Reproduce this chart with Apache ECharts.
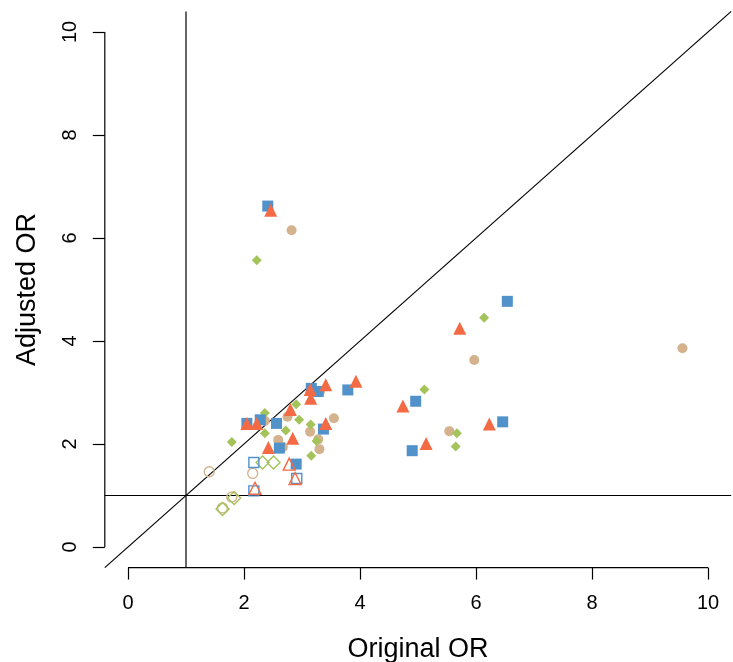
<!DOCTYPE html>
<html>
<head>
<meta charset="utf-8">
<title>Original vs Adjusted OR</title>
<script src="https://cdn.jsdelivr.net/npm/echarts@6/dist/echarts.min.js"></script>
<style>
  html, body { margin: 0; padding: 0; background: #fff; }
  #chart { width: 733px; height: 662px; }
</style>
</head>
<body>
<div id="chart"></div>
<script>
// Axis ticks (odds ratio scale)
const xTicks = [0, 2, 4, 6, 8, 10];
const yTicks = [0, 2, 4, 6, 8, 10];

// Filled markers: [original OR, adjusted OR]
const squaresFilled = [
  [2.41, 6.62], [6.54, 4.77], [6.46, 2.43], [4.90, 1.87], [4.96, 2.83],
  [3.79, 3.05], [3.16, 3.08], [3.28, 3.02], [2.05, 2.40], [2.28, 2.47],
  [2.56, 2.40], [2.61, 1.92], [2.90, 1.61], [3.37, 2.29]
];
const trianglesFilled = [
  [2.46, 6.54], [5.72, 4.25], [4.74, 2.74], [6.23, 2.39], [5.14, 2.01],
  [3.93, 3.22], [3.41, 3.15], [3.14, 3.06], [3.15, 2.89], [2.80, 2.67],
  [3.41, 2.40], [2.84, 2.11], [2.05, 2.40], [2.22, 2.40], [2.42, 1.93]
];
const circlesFilled = [
  [2.82, 6.15], [5.97, 3.63], [9.56, 3.86], [5.54, 2.25], [3.31, 3.02],
  [2.75, 2.53], [3.55, 2.50], [3.14, 2.24], [2.59, 2.08], [3.28, 2.09],
  [3.30, 1.90], [2.67, 1.94], [2.36, 2.45]
];
const diamondsFilled = [
  [2.22, 5.57], [6.14, 4.45], [5.11, 3.06], [5.67, 2.21], [5.65, 1.95],
  [2.90, 2.77], [2.95, 2.47], [3.15, 2.38], [2.72, 2.26], [3.25, 2.06],
  [2.36, 2.60], [2.36, 2.21], [1.79, 2.04], [3.16, 1.77]
];

// Open markers
const circlesOpen = [[1.40, 1.46], [2.15, 1.43], [1.79, 0.97], [1.63, 0.76]];
const diamondsOpen = [[2.32, 1.64], [2.51, 1.64], [1.83, 0.95], [1.63, 0.74]];
const squaresOpen = [[2.17, 1.64], [2.91, 1.33], [2.17, 1.09]];
const trianglesOpen = [[2.78, 1.61], [2.88, 1.33], [2.19, 1.14]];

// Reference lines
const lo = -0.4, hi = 10.4;
const identityLine = [[lo, lo], [hi, hi]];
const nullX = [[1, lo], [1, hi]];
const nullY = [[lo, 1], [hi, 1]];
const xAxisSpan = [[0, lo], [10, lo]];
const yAxisSpan = [[lo, 0], [lo, 10]];

const BLUE = '#5192CB';
const RED = '#F36A44';
const TAN = '#D3B28D';
const GREEN = '#A4C35A';
const FONT = 'Liberation Sans, Arial, Helvetica, sans-serif';

function refLine(data) {
  return {
    type: 'line', data: data, symbol: 'none', silent: true, clip: false,
    lineStyle: { color: '#000', width: 1.2 }, animation: false, z: 1
  };
}
function filled(data, symbol, size, color) {
  return {
    type: 'scatter', data: data, symbol: symbol, symbolSize: size,
    itemStyle: { color: color, opacity: 1 }, animation: false, z: 3
  };
}
function open(data, symbol, size, color) {
  return {
    type: 'scatter', data: data, symbol: symbol, symbolSize: size,
    itemStyle: { color: 'rgba(0,0,0,0)', borderColor: color, borderWidth: 1.4, opacity: 1 },
    animation: false, z: 3
  };
}

const chart = echarts.init(document.getElementById('chart'), null, { renderer: 'canvas' });
chart.setOption({
  backgroundColor: '#fff',
  textStyle: { fontFamily: FONT },
  grid: {
    left: 104.8, right: 1.8, top: 11.4, bottom: 94.4,
    containLabel: false, outerBoundsMode: 'none'
  },
  xAxis: {
    type: 'value', min: lo, max: hi,
    name: 'Original OR', nameLocation: 'middle', nameGap: 68,
    nameTextStyle: { fontSize: 27, color: '#000', fontFamily: FONT },
    axisLine: { show: false, onZero: false },
    splitLine: { show: false },
    axisTick: { show: true, customValues: xTicks, length: 12, lineStyle: { color: '#000', width: 1.2 } },
    axisLabel: { customValues: xTicks, fontSize: 20, color: '#000', margin: 26, fontFamily: FONT }
  },
  yAxis: {
    type: 'value', min: lo, max: hi,
    name: 'Adjusted OR', nameLocation: 'middle', nameGap: 64, nameRotate: 90,
    nameTextStyle: { fontSize: 27, color: '#000', fontFamily: FONT },
    axisLine: { show: false, onZero: false },
    splitLine: { show: false },
    axisTick: { show: true, customValues: yTicks, length: 12, lineStyle: { color: '#000', width: 1.2 } },
    axisLabel: { customValues: yTicks, fontSize: 20, color: '#000', margin: 24, rotate: 90, fontFamily: FONT }
  },
  series: [
    refLine(xAxisSpan),
    refLine(yAxisSpan),
    refLine(identityLine),
    refLine(nullX),
    refLine(nullY),
    filled(circlesFilled, 'circle', 10, TAN),
    filled(diamondsFilled, 'diamond', 10, GREEN),
    filled(squaresFilled, 'rect', 11, BLUE),
    filled(trianglesFilled, 'triangle', 13, RED),
    open(circlesOpen, 'circle', 10, TAN),
    open(diamondsOpen, 'diamond', 13, GREEN),
    open(squaresOpen, 'rect', 10, BLUE),
    open(trianglesOpen, 'triangle', 12, RED)
  ]
});
</script>
</body>
</html>
